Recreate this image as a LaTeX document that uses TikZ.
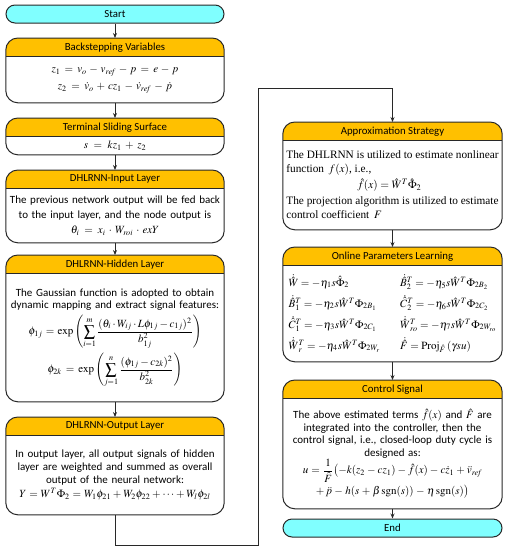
\documentclass[tikz,border=0pt]{standalone}
\usepackage{amsmath,amssymb}
\usepackage{mathptmx}
\usepackage[no-math]{fontspec}
\setmainfont{Carlito}
\newfontfamily\timesfont{Liberation Serif}
\usetikzlibrary{arrows.meta, positioning, backgrounds}
\definecolor{hdrgold}{RGB}{255,192,0}
\definecolor{termcyan}{RGB}{128,255,255}
\definecolor{edgegray}{RGB}{40,40,40}

\tikzset{
  term/.style={draw=edgegray, line width=1pt, fill=termcyan, rounded corners=9pt, minimum height=18pt, font=\fontsize{10.8}{12}\selectfont},
  hdr/.style={minimum height=18pt, inner sep=0pt, font=\fontsize{10.8}{12}\selectfont, anchor=north},
  bodytext/.style={inner sep=2pt, align=center, font=\fontsize{11}{15}\selectfont},
  flow/.style={draw=edgegray, line width=0.9pt, -{Stealth[length=5pt,width=4pt]}}
}

\begin{document}
\begin{tikzpicture}[x=1pt, y=1pt]
\useasboundingbox (0,0) rectangle (508,-550);
\def\lw{218pt}
\def\rw{219pt}
% left column
\node[term, minimum width=\lw] (start) at (115,-14) {Start};
\node[hdr, minimum width=\lw] (bsvh) at (115,-38) {Backstepping Variables};
\node[bodytext, text width=212pt, minimum height=46pt, below=0pt of bsvh] (bsv)
  {$z_1 = v_o - v_{\mathit{ref}} - p = e - p$\\[2pt] $z_2 = \dot{v}_o + cz_1 - \dot{v}_{\mathit{ref}} - \dot{p}$};
\node[hdr, minimum width=\lw] (tssh) at (115,-118) {Terminal Sliding Surface};
\node[bodytext, text width=212pt, minimum height=18pt, below=0pt of tssh] (tss) {$s = kz_1 + z_2$};
\node[hdr, minimum width=\lw] (inph) at (115,-170) {DHLRNN-Input Layer};
\node[bodytext, text width=214pt, minimum height=54pt, below=0pt of inph] (inp)
  {The previous network output will be fed back\\ to the input layer, and the node output is\\ $\theta_i = x_i \cdot W_{roi} \cdot exY$};
\node[hdr, minimum width=\lw] (hidh) at (115,-255) {DHLRNN-Hidden Layer};
\node[bodytext, text width=214pt, minimum height=128pt, below=0pt of hidh, font=\fontsize{11}{12.5}\selectfont] (hid)
  {The Gaussian function is adopted to obtain\\ dynamic mapping and extract signal features:\\[4pt]
   $\displaystyle \phi_{1j} = \exp\left(\sum_{i=1}^{m}\frac{(\theta_i\cdot W_{ij}\cdot L\phi_{1j}-c_{1j})^2}{b_{1j}^2}\right)$\\[4pt]
   $\displaystyle \phi_{2k} = \exp\left(\sum_{j=1}^{n}\frac{(\phi_{1j}-c_{2k})^2}{b_{2k}^2}\right)$};
\node[hdr, minimum width=\lw] (outh) at (115,-417) {DHLRNN-Output Layer};
\node[bodytext, text width=214pt, minimum height=79pt, below=0pt of outh, font=\fontsize{11}{13}\selectfont] (out)
  {In output layer, all output signals of hidden\\ layer are weighted and summed as overall\\ output of the neural network:\\[1pt]
   $Y = W^T\Phi_2 = W_1\phi_{21} + W_2\phi_{22} + \cdots + W_l\phi_{2l}$};
% right column
\node[hdr, minimum width=\rw] (apxh) at (392.5,-122) {Approximation Strategy};
\node[bodytext, align=left, minimum width=\rw, minimum height=89pt, below=0pt of apxh, font=\timesfont\fontsize{11.3}{14}\selectfont] (apx)
  {The DHLRNN is utilized to estimate nonlinear\\ function \,$f(x)$, i.e.,\\[2pt]
   \makebox[206pt]{$\hat{f}(x) = \hat{W}^T\hat{\Phi}_2$}\\[2pt]
   The projection algorithm is utilized to estimate\\ control coefficient \,$F$};
\node[hdr, minimum width=\rw] (oplh) at (392.5,-247) {Online Parameters Learning};
\node[bodytext, text width=213pt, minimum height=96pt, below=0pt of oplh] (opl)
  {\renewcommand{\arraystretch}{1.4}%
   \begin{tabular}{@{}l@{\hspace{20pt}}l@{}}
   $\dot{\hat{W}} = -\eta_1 s\hat{\Phi}_2$ & $\dot{\hat{B}}{}_2^T = -\eta_5 s\hat{W}^T\Phi_{2B_2}$\\
   $\dot{\hat{B}}{}_1^T = -\eta_2 s\hat{W}^T\Phi_{2B_1}$ & $\dot{\hat{C}}{}_2^T = -\eta_6 s\hat{W}^T\Phi_{2C_2}$\\
   $\dot{\hat{C}}{}_1^T = -\eta_3 s\hat{W}^T\Phi_{2C_1}$ & $\dot{\hat{W}}{}_{ro}^T = -\eta_7 s\hat{W}^T\Phi_{2W_{ro}}$\\
   $\dot{\hat{W}}{}_r^T = -\eta_4 s\hat{W}^T\Phi_{2W_r}$ & $\dot{\hat{F}} = \mathrm{Proj}_{\hat{F}}\,(\gamma s u)$
   \end{tabular}};
\node[hdr, minimum width=\rw] (ctlh) at (392.5,-380) {Control Signal};
\node[bodytext, text width=215pt, minimum height=110pt, below=0pt of ctlh, font=\fontsize{11}{12.5}\selectfont] (ctl)
  {The above estimated terms $\hat{f}(x)$ and $\hat{F}$ are\\ integrated into the controller, then the\\
   control signal, i.e., closed-loop duty cycle is\\ designed as:\\
   $\displaystyle u = \frac{1}{\hat{F}}\bigl(-k(z_2 - cz_1) - \hat{f}(x) - c\dot{z}_1 + \ddot{v}_{\mathit{ref}}$\\[2pt]
   $+\,\ddot{p} - h(s + \beta\,\mathrm{sgn}(s)) - \eta\,\mathrm{sgn}(s)\bigr)$};
\node[term, minimum width=\rw] (end) at (392.5,-528) {End};
% headers and frames
\begin{scope}[on background layer]
\foreach \b in {bsv,tss,inp,hid,out,apx,opl,ctl} {
  \begin{scope}
    \clip[rounded corners=12pt] (\b h.north west) rectangle (\b h.east |- \b.south);
    \fill[hdrgold] (\b h.north west) rectangle (\b h.south east);
  \end{scope}
}
\end{scope}
\foreach \b in {bsv,tss,inp,hid,out,apx,opl,ctl} {
  \draw[edgegray, line width=1pt, rounded corners=12pt] (\b h.north west) rectangle (\b h.east |- \b.south);
  \draw[edgegray, line width=1pt] (\b h.south west) -- (\b h.south east);
}
% connectors
\draw[flow] (start) -- (bsvh);
\draw[flow] (bsv) -- (tssh);
\draw[flow] (tss) -- (inph);
\draw[flow] (inp) -- (hidh);
\draw[flow] (hid) -- (outh);
\coordinate (loopa) at (115,-545);
\coordinate (loopb) at (258,-545);
\coordinate (loopc) at (258,-88);
\coordinate (loopd) at (392.5,-88);
\draw[flow] (out.south) -- (loopa) -- (loopb) -- (loopc) -- (loopd) -- (apxh.north);
\draw[flow] (apx) -- (oplh);
\draw[flow] (opl) -- (ctlh);
\draw[flow] (ctl) -- (end);
\end{tikzpicture}
\end{document}
